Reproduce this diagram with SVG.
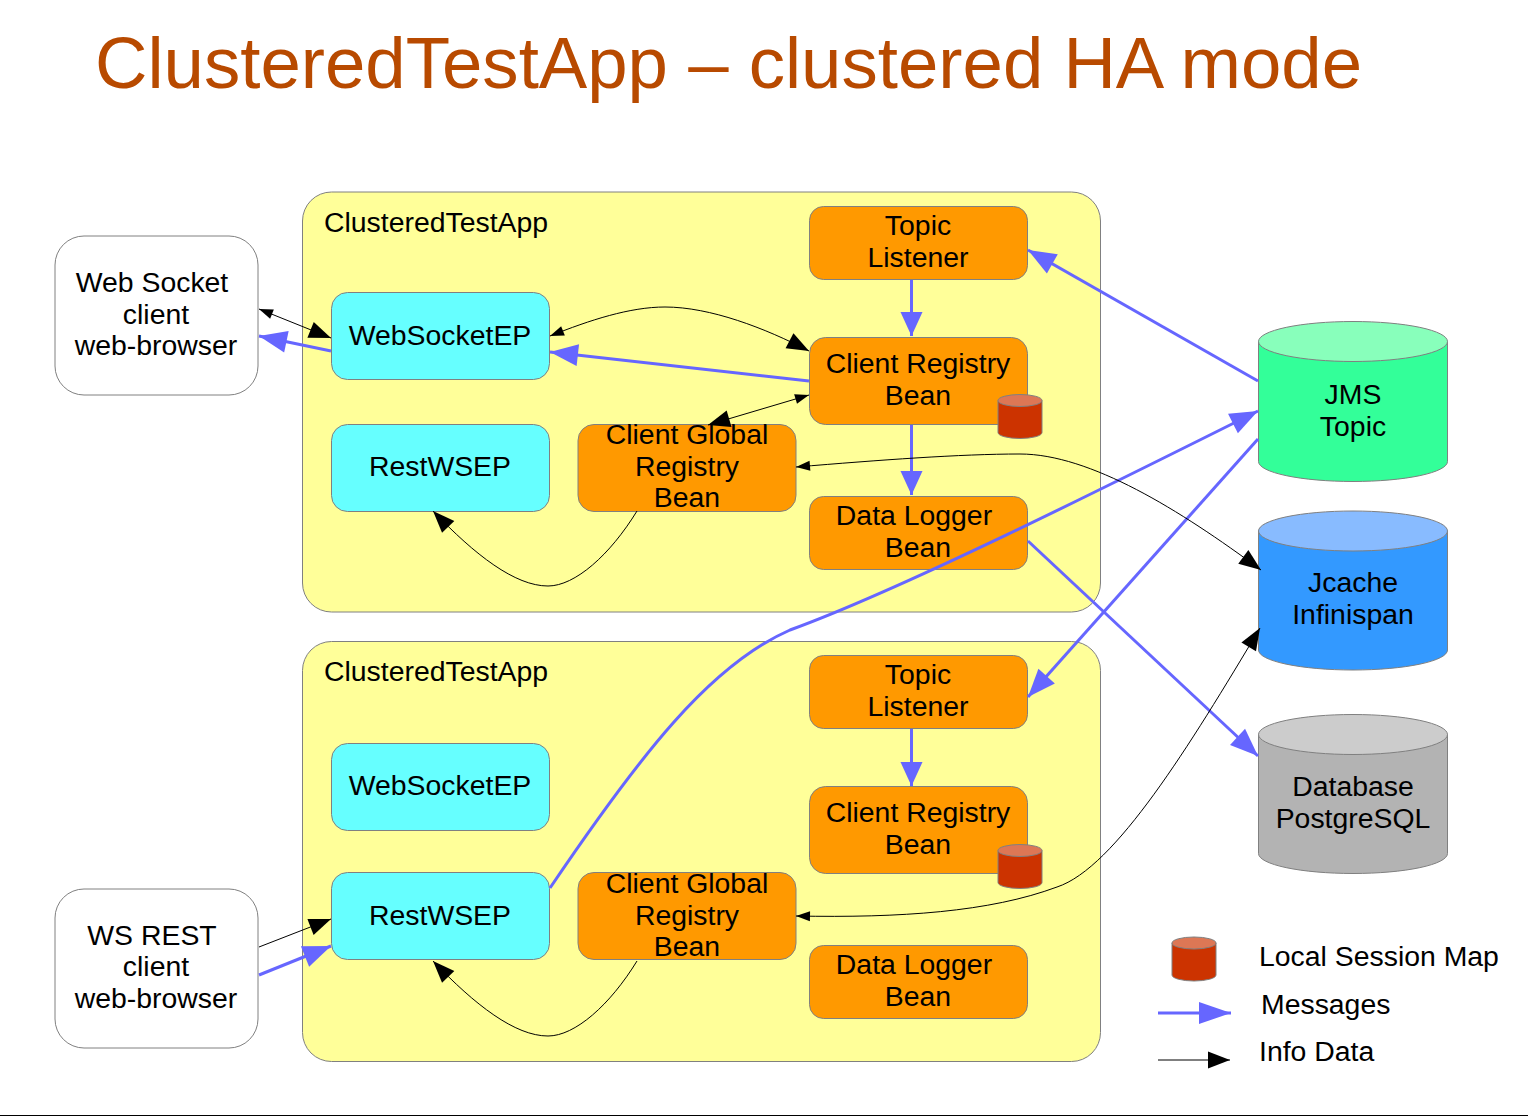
<svg xmlns="http://www.w3.org/2000/svg" width="1528" height="1116" viewBox="0 0 1528 1116">
<style>
text{font-family:"Liberation Sans",Arial,sans-serif;fill:#000;font-size:28.400px;text-anchor:middle}
.lbl{text-anchor:start}
.title{font-size:72.600px;fill:#b84a00;text-anchor:start}
.s{stroke:#808080;stroke-width:1}
.client{fill:#fff}.app{fill:#ffff99}.ep{fill:#66ffff}.bean{fill:#ff9900}
.m{fill:none;stroke:#6666ff;stroke-width:3}
.i{fill:none;stroke:#000;stroke-width:1}
</style>
<defs>
<marker id="bl" markerUnits="userSpaceOnUse" markerWidth="32" markerHeight="24" refX="30" refY="12" orient="auto"><path d="M2 1L30 12L2 23Z" fill="#6666ff"/></marker>
<marker id="bv" markerUnits="userSpaceOnUse" markerWidth="26" markerHeight="24" refX="25" refY="12" orient="auto"><path d="M1 1L25 12L1 23Z" fill="#6666ff"/></marker>
<marker id="bx" markerUnits="userSpaceOnUse" markerWidth="34" markerHeight="24" refX="33" refY="12" orient="auto"><path d="M1 1L33 12L1 23Z" fill="#6666ff"/></marker>
<marker id="kl" markerUnits="userSpaceOnUse" markerWidth="26" markerHeight="20" refX="24" refY="10" orient="auto-start-reverse"><path d="M2 1.500L24 10L2 18.500Z" fill="#000"/></marker>
<marker id="ks" markerUnits="userSpaceOnUse" markerWidth="16" markerHeight="14" refX="15" refY="7" orient="auto-start-reverse"><path d="M1 2L15 7L1 12Z" fill="#000"/></marker>
<g id="cyl"><path d="M0 6V38A22 6 0 0 0 44 38V6Z" fill="#cc3300" stroke="#808080"/><ellipse cx="22" cy="6" rx="22" ry="6" fill="#dd7755" stroke="#808080"/></g>
</defs>
<rect width="1528" height="1116" fill="#fff"/>
<text id="title" class="title" x="95" y="88">ClusteredTestApp – clustered HA mode</text>

<g id="client-ws"><rect class="client s" x="55" y="236" width="203" height="159" rx="29"/><text x="152" y="292">Web Socket</text><text x="156" y="324">client</text><text x="156" y="355">web-browser</text></g>
<g id="client-rest"><rect class="client s" x="55" y="889" width="203" height="159" rx="29"/><text x="152" y="945">WS REST</text><text x="156" y="976">client</text><text x="156" y="1008">web-browser</text></g>

<g id="app1"><rect class="app s" x="302.500" y="192" width="798" height="420" rx="29"/><text class="lbl" x="324" y="232">ClusteredTestApp</text></g>
<g id="app2"><rect class="app s" x="302.500" y="641.500" width="798" height="420" rx="29"/><text class="lbl" x="324" y="681">ClusteredTestApp</text></g>

<g id="wsep1"><rect class="ep s" x="331.500" y="292.500" width="218" height="87" rx="16"/><text x="440" y="345">WebSocketEP</text></g>
<g id="rest1"><rect class="ep s" x="331.500" y="424.500" width="218" height="87" rx="16"/><text x="440" y="476">RestWSEP</text></g>
<g id="topic1"><rect class="bean s" x="809.500" y="206.500" width="218" height="73" rx="14"/><text x="918" y="235">Topic</text><text x="918" y="267">Listener</text></g>
<g id="reg1"><rect class="bean s" x="809.500" y="337.500" width="218" height="87" rx="16"/><text x="918" y="373">Client Registry</text><text x="918" y="405">Bean</text><use href="#cyl" x="998" y="394.500"/></g>
<g id="glob1"><rect class="bean s" x="578" y="424.500" width="218" height="87" rx="16"/><text x="687" y="444">Client Global</text><text x="687" y="476">Registry</text><text x="687" y="507">Bean</text></g>
<g id="log1"><rect class="bean s" x="809.500" y="496.500" width="218" height="73" rx="14"/><text x="914" y="525">Data Logger</text><text x="918" y="557">Bean</text></g>

<g id="wsep2"><rect class="ep s" x="331.500" y="743.500" width="218" height="87" rx="16"/><text x="440" y="795">WebSocketEP</text></g>
<g id="rest2"><rect class="ep s" x="331.500" y="872.500" width="218" height="87" rx="16"/><text x="440" y="925">RestWSEP</text></g>
<g id="topic2"><rect class="bean s" x="809.500" y="655.500" width="218" height="73" rx="14"/><text x="918" y="684">Topic</text><text x="918" y="716">Listener</text></g>
<g id="reg2"><rect class="bean s" x="809.500" y="786.500" width="218" height="87" rx="16"/><text x="918" y="822">Client Registry</text><text x="918" y="854">Bean</text><use href="#cyl" x="998" y="844.500"/></g>
<g id="glob2"><rect class="bean s" x="578" y="872.500" width="218" height="87" rx="16"/><text x="687" y="893">Client Global</text><text x="687" y="925">Registry</text><text x="687" y="956">Bean</text></g>
<g id="log2"><rect class="bean s" x="809.500" y="945.500" width="218" height="73" rx="14"/><text x="914" y="974">Data Logger</text><text x="918" y="1006">Bean</text></g>

<g id="jms"><path class="s" d="M1258.500 341.500V461.500A94.500 20 0 0 0 1447.500 461.500V341.500Z" fill="#33ff99"/><ellipse class="s" cx="1353" cy="341.500" rx="94.500" ry="20" fill="#88ffbb"/><text x="1353" y="404">JMS</text><text x="1353" y="436">Topic</text></g>
<g id="jcache"><path class="s" d="M1258.500 531V650A94.500 20 0 0 0 1447.500 650V531Z" fill="#3399ff"/><ellipse class="s" cx="1353" cy="531" rx="94.500" ry="20" fill="#88bbff"/><text x="1353" y="592">Jcache</text><text x="1353" y="624">Infinispan</text></g>
<g id="db"><path class="s" d="M1258.500 734.500V853.500A94.500 20 0 0 0 1447.500 853.500V734.500Z" fill="#b3b3b3"/><ellipse class="s" cx="1353" cy="734.500" rx="94.500" ry="20" fill="#cccccc"/><text x="1353" y="796">Database</text><text x="1353" y="828">PostgreSQL</text></g>

<g id="connectors">
<path class="m" marker-end="url(#bl)" d="M1258 381L1028 250"/>
<path class="m" marker-end="url(#bv)" d="M911.500 280V336"/>
<path class="m" marker-end="url(#bl)" d="M809 381L550 352"/>
<path class="m" marker-end="url(#bl)" d="M331 351L259 336"/>
<path class="m" marker-end="url(#bv)" d="M911.500 425V495"/>
<path class="m" marker-end="url(#bl)" d="M1028 541L1258 756"/>
<path class="m" marker-end="url(#bl)" d="M550 888C640 755 710 665 790 630C900 590 1100 490 1258 411"/>
<path class="m" marker-end="url(#bl)" d="M1258 439L1028 697"/>
<path class="m" marker-end="url(#bv)" d="M911.500 729V786"/>
<path class="m" marker-end="url(#bl)" d="M259 975L331 946"/>
<path class="i" marker-start="url(#ks)" marker-end="url(#kl)" d="M259 309L331 338"/>
<path class="i" marker-start="url(#ks)" marker-end="url(#kl)" d="M550 336C590 320 630 307 665 307C710 307 765 328 809 351"/>
<path class="i" marker-start="url(#kl)" marker-end="url(#ks)" d="M708 425L809 395"/>
<path class="i" marker-end="url(#kl)" d="M637 511C610 555 575 586 548 586C515 586 475 555 433 511"/>
<path class="i" marker-end="url(#kl)" d="M637 961C610 1005 575 1036 548 1036C515 1036 475 1005 433 961"/>
<path class="i" marker-start="url(#ks)" marker-end="url(#kl)" d="M796 467C880 460 960 454 1020 454C1090 454 1180 510 1261 570"/>
<path class="i" marker-start="url(#ks)" marker-end="url(#kl)" d="M796 916C900 918 990 912 1057 887C1115 868 1190 745 1260 628"/>
<path class="i" marker-end="url(#kl)" d="M259 947L331 919"/>
</g>

<g id="legend">
<use href="#cyl" x="1172" y="937"/>
<text class="lbl" x="1259" y="966">Local Session Map</text>
<path class="m" marker-end="url(#bx)" d="M1158 1013H1231"/>
<text class="lbl" x="1261" y="1014">Messages</text>
<path class="i" marker-end="url(#kl)" d="M1158 1060H1230"/>
<text class="lbl" x="1259" y="1061">Info Data</text>
</g>
<path d="M0 1115.500H1528" stroke="#000" stroke-width="1"/>
</svg>
